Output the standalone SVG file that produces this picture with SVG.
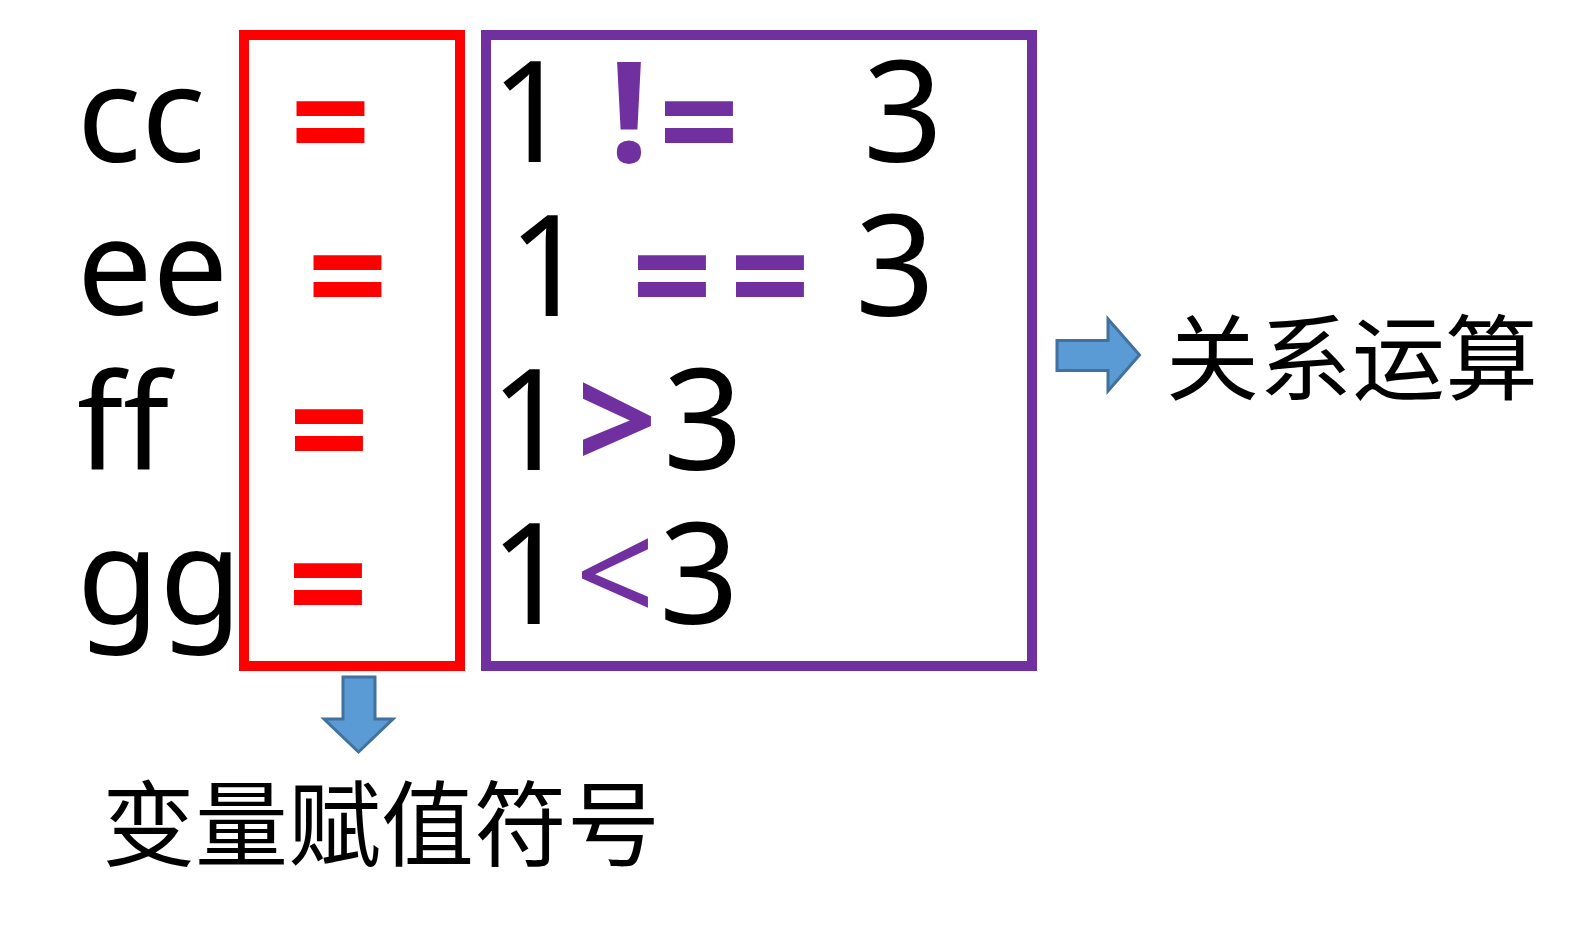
<svg xmlns="http://www.w3.org/2000/svg" width="1591" height="931" viewBox="0 0 1591 931">
<style>
.lat{font-family:"Noto Sans","Open Sans","DejaVu Sans",sans-serif;font-size:140px;fill:#000}
.nm{font-size:134px}
.red{fill:#FF0000;font-weight:bold}
.pur{fill:#7030A0}
.b{font-weight:bold}
.mid{text-anchor:middle}
.cjk{font-family:"Noto Sans CJK SC","Noto Sans",sans-serif;font-size:93px;fill:#000}
.arrow{fill:#5B9BD5;stroke:#41719C;stroke-width:3;stroke-linejoin:miter}
</style>
<rect width="1591" height="931" fill="#FFFFFF"/>
<g id="names">
<text class="lat nm" x="77" y="162">cc</text>
<text class="lat nm" x="77" y="315">ee</text>
<text class="lat nm" x="77" y="470">ff</text>
<text class="lat nm" x="77" y="624">gg</text>
</g>
<g id="assign-box">
<rect x="244" y="35" width="216" height="631" fill="none" stroke="#FF0000" stroke-width="10"/>
<text class="lat red mid" x="330.5" y="172">=</text>
<text class="lat red mid" x="347.5" y="326">=</text>
<text class="lat red mid" x="329" y="480">=</text>
<text class="lat red mid" x="328" y="634">=</text>
</g>
<g id="relation-box">
<rect x="486" y="35" width="546" height="631" fill="none" stroke="#7030A0" stroke-width="10"/>
<text class="lat mid" x="531" y="162">1</text>
<text class="lat pur b mid" x="629" y="162">!</text>
<text class="lat pur b mid" x="699" y="172">=</text>
<text class="lat mid" x="903" y="162">3</text>
<text class="lat mid" x="548" y="316">1</text>
<text class="lat pur b mid" x="672" y="326">=</text>
<text class="lat pur b mid" x="770" y="326">=</text>
<text class="lat mid" x="895" y="316">3</text>
<text class="lat mid" x="530" y="470">1</text>
<text class="lat pur b mid" x="617" y="470">&gt;</text>
<text class="lat mid" x="703" y="470">3</text>
<text class="lat mid" x="530" y="624">1</text>
<text class="lat pur mid" x="615" y="624">&lt;</text>
<text class="lat mid" x="699" y="624">3</text>
</g>
<g id="connectors">
<polygon class="arrow" points="1057,340.5 1108,340.5 1108,319 1139.5,355 1108,391 1108,370.5 1057,370.5"/>
<polygon class="arrow" points="343,677 375,677 375,719 393,719 358.5,752 324,719 343,719"/>
</g>
<g id="label-relation">
<text class="cjk" x="1166" y="393">关系运算</text>
</g>
<g id="label-assign">
<text class="cjk" x="102" y="859">变量赋值符号</text>
</g>
</svg>
